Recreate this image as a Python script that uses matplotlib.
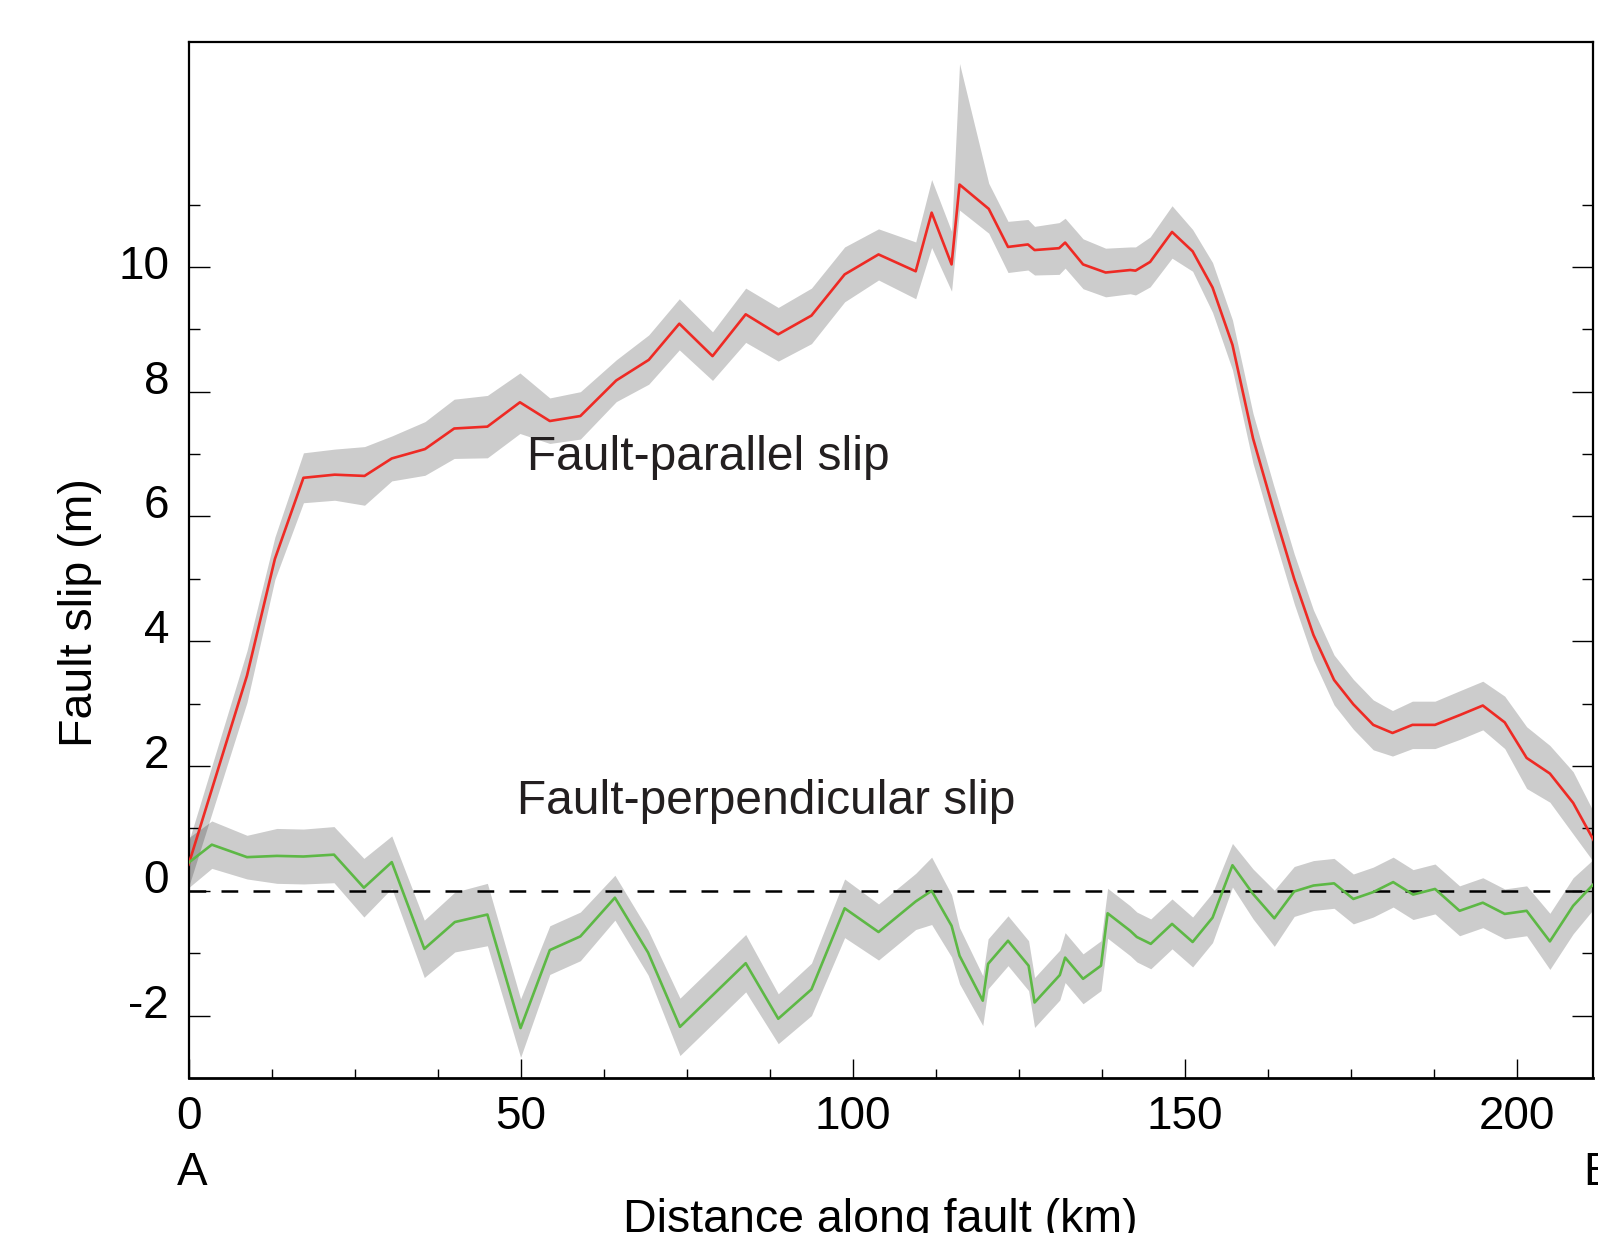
import numpy as np
import matplotlib.pyplot as plt
import matplotlib.transforms as mtransforms
from matplotlib.ticker import FixedLocator, MultipleLocator

# Fault-parallel slip (red)
par_km = [0.0, 8.8, 13.0, 17.3, 22.0, 26.5, 30.6, 35.6, 40.0, 45.0,
          49.9, 54.4, 59.0, 64.4, 69.3, 73.9, 78.9, 83.9, 88.8, 93.8,
          98.8, 103.9, 109.5, 111.9, 114.9, 116.1, 120.5, 123.4, 126.4, 127.4,
          131.1, 132.0, 134.7, 138.1, 141.8, 142.6, 144.8, 148.1, 151.2, 154.2,
          157.2, 160.3, 163.4, 166.5, 169.4, 172.5, 175.4, 178.4, 181.3, 184.3,
          187.7, 191.5, 194.9, 198.2, 201.5, 205.0, 208.5, 211.6]
par_slip = [0.42, 3.45, 5.32, 6.62, 6.67, 6.65, 6.93, 7.08, 7.41, 7.44,
            7.83, 7.53, 7.61, 8.18, 8.51, 9.09, 8.57, 9.24, 8.92, 9.22,
            9.88, 10.20, 9.93, 10.87, 10.04, 11.32, 10.93, 10.32, 10.36, 10.27,
            10.30, 10.39, 10.04, 9.91, 9.95, 9.94, 10.08, 10.56, 10.25, 9.67,
            8.75, 7.25, 6.10, 5.00, 4.10, 3.38, 2.99, 2.66, 2.53, 2.66,
            2.66, 2.82, 2.97, 2.70, 2.13, 1.88, 1.41, 0.81]
par_err_up = [0.36, 0.40, 0.35, 0.40, 0.41, 0.47, 0.36, 0.44, 0.47, 0.50,
              0.47, 0.37, 0.39, 0.33, 0.40, 0.40, 0.39, 0.42, 0.43, 0.44,
              0.44, 0.41, 0.47, 0.53, 0.53, 1.94, 0.41, 0.41, 0.40, 0.38,
              0.41, 0.39, 0.41, 0.39, 0.37, 0.38, 0.40, 0.42, 0.35, 0.40,
              0.40, 0.40, 0.40, 0.40, 0.40, 0.40, 0.40, 0.40, 0.36, 0.38,
              0.38, 0.39, 0.39, 0.42, 0.50, 0.45, 0.50, 0.45]
par_err_dn = [0.36, 0.43, 0.33, 0.40, 0.41, 0.47, 0.36, 0.42, 0.48, 0.50,
              0.50, 0.36, 0.37, 0.34, 0.39, 0.42, 0.39, 0.45, 0.43, 0.45,
              0.44, 0.41, 0.44, 0.56, 0.43, 0.41, 0.39, 0.41, 0.41, 0.40,
              0.42, 0.41, 0.39, 0.39, 0.38, 0.39, 0.40, 0.42, 0.32, 0.40,
              0.40, 0.40, 0.40, 0.40, 0.40, 0.40, 0.40, 0.40, 0.37, 0.38,
              0.38, 0.39, 0.39, 0.42, 0.49, 0.46, 0.50, 0.35]

# Fault-perpendicular slip (green)
perp_km = [0.0, 3.5, 8.8, 13.3, 17.3, 21.9, 26.4, 30.6, 35.5, 40.1,
           45.0, 50.0, 54.4, 59.0, 64.2, 69.2, 74.0, 83.9, 88.8, 93.8,
           98.8, 103.9, 109.5, 111.9, 114.9, 116.1, 119.6, 120.4, 123.4, 126.5,
           127.4, 131.2, 132.0, 134.7, 137.4, 138.4, 141.8, 142.8, 144.9, 148.1,
           151.2, 154.2, 157.2, 160.3, 163.5, 166.5, 169.4, 172.5, 175.4, 178.4,
           181.4, 184.4, 187.7, 191.4, 194.9, 198.2, 201.5, 205.0, 208.5, 211.6]
perp_slip = [0.45, 0.74, 0.54, 0.56, 0.55, 0.58, 0.05, 0.46, -0.93, -0.50,
             -0.38, -2.20, -0.95, -0.73, -0.11, -0.99, -2.18, -1.16, -2.05, -1.58,
             -0.28, -0.66, -0.17, 0.00, -0.56, -1.04, -1.76, -1.17, -0.80, -1.20,
             -1.79, -1.35, -1.07, -1.41, -1.20, -0.36, -0.64, -0.74, -0.85, -0.53,
             -0.82, -0.43, 0.41, -0.05, -0.44, -0.01, 0.085, 0.12, -0.13, -0.02,
             0.14, -0.06, 0.03, -0.32, -0.19, -0.37, -0.32, -0.81, -0.24, 0.11]
perp_err = [0.40, 0.38, 0.35, 0.44, 0.44, 0.45, 0.47, 0.42, 0.46, 0.48,
            0.50, 0.47, 0.39, 0.39, 0.36, 0.36, 0.46, 0.46, 0.40, 0.42,
            0.47, 0.45, 0.45, 0.54, 0.50, 0.45, 0.40, 0.40, 0.40, 0.40,
            0.40, 0.40, 0.40, 0.40, 0.40, 0.40, 0.40, 0.40, 0.40, 0.40,
            0.40, 0.40, 0.35, 0.40, 0.45, 0.40, 0.40, 0.40, 0.40, 0.40,
            0.40, 0.40, 0.40, 0.40, 0.40, 0.40, 0.40, 0.45, 0.45, 0.40]

y_major = [-2, 0, 2, 4, 6, 8, 10]
y_minor = [-1, 1, 3, 5, 7, 9, 11]


def main():
    plt.rcParams["font.family"] = ["Liberation Sans", "DejaVu Sans"]
    plt.rcParams["axes.unicode_minus"] = False
    text_color = "#231f20"

    fig = plt.figure(figsize=(15.98, 12.33), dpi=100)
    ax = fig.add_axes([0.118, 0.1257, 0.8789, 0.8400])

    px = np.array(par_km)
    py = np.array(par_slip)
    qx = np.array(perp_km)
    qy = np.array(perp_slip)
    qe = np.array(perp_err)

    # uncertainty bands (black at low alpha so overlaps darken)
    ax.fill_between(px, py - np.array(par_err_dn), py + np.array(par_err_up),
                    color="black", alpha=0.2, linewidth=0, zorder=1)
    ax.fill_between(qx, qy - qe, qy + qe,
                    color="black", alpha=0.2, linewidth=0, zorder=1)

    ax.axhline(0, color="black", linewidth=1.8, linestyle=(0, (6.7, 6.1)), zorder=2)

    ax.plot(px, py, color="#ee2a24", linewidth=1.9, zorder=3)
    ax.plot(qx, qy, color="#5db845", linewidth=1.9, zorder=3)

    ax.set_xlim(0, 211.5)
    ax.set_ylim(-3, 13.6)

    ax.xaxis.set_major_locator(MultipleLocator(50))
    ax.xaxis.set_minor_locator(MultipleLocator(12.5))
    ax.yaxis.set_major_locator(FixedLocator(y_major))
    ax.yaxis.set_minor_locator(FixedLocator(y_minor))

    ax.tick_params(axis="both", which="both", direction="in", right=True,
                   top=False, width=1.0, colors="black", labelsize=33)
    ax.tick_params(axis="x", which="major", length=13.5, pad=12)
    ax.tick_params(axis="x", which="minor", length=6.7)
    ax.tick_params(axis="y", which="major", length=15, pad=14)
    ax.tick_params(axis="y", which="minor", length=8)

    for side in ("left", "right", "top"):
        ax.spines[side].set_linewidth(1.6)
    ax.spines["bottom"].set_linewidth(2.0)

    # y tick labels sit a little above their ticks in the original
    for val, tick in zip(y_major, ax.yaxis.get_major_ticks()):
        dy = 0.05 if val == 10 else 0.15
        shift = mtransforms.ScaledTranslation(0, dy, fig.dpi_scale_trans)
        tick.label1.set_transform(tick.label1.get_transform() + shift)

    ax.text(50.9, 6.74, "Fault-parallel slip", fontsize=34.5,
            color=text_color, ha="left", va="baseline")
    ax.text(49.5, 1.235, "Fault-perpendicular slip", fontsize=34.5,
            color=text_color, ha="left", va="baseline")

    fig.text(192.6 / 1598, 1 - 1185 / 1233, "A", fontsize=33,
             ha="center", va="baseline")
    fig.text(1583 / 1598, 1 - 1185 / 1233, "B", fontsize=33,
             ha="left", va="baseline")
    fig.text(880 / 1598, 1 - 1232 / 1233, "Distance along fault (km)",
             fontsize=33.5, ha="center", va="baseline")
    fig.text(79.5 / 1598, 1 - 613 / 1233, "Fault slip (m)", fontsize=33.5,
             rotation=90, ha="center", va="center")

    fig.savefig("out.png", dpi=100)


if __name__ == "__main__":
    main()
